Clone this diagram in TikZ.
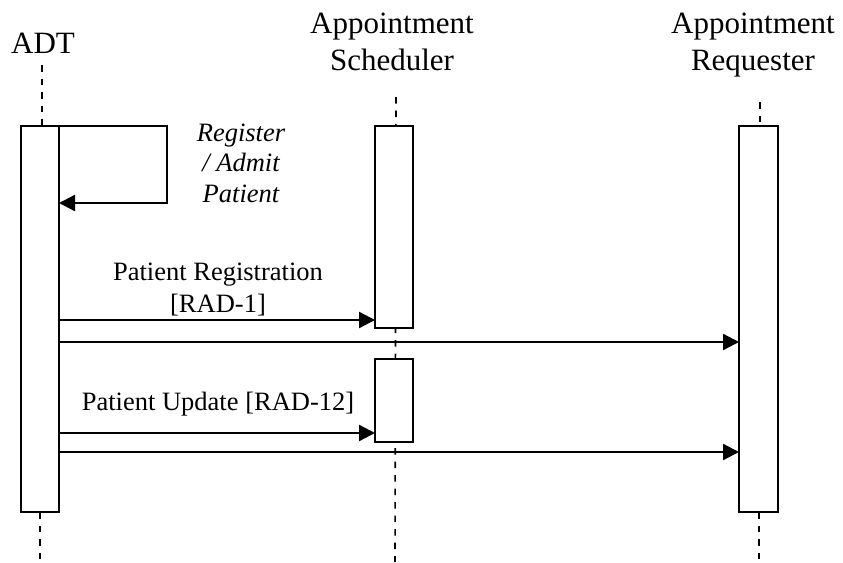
\documentclass[tikz,border=0pt]{standalone}
\usepackage{fontspec}
\setmainfont{Liberation Serif}
\usetikzlibrary{arrows.meta}
\begin{document}
\begin{tikzpicture}[x=1pt,y=-1pt,
  actbox/.style={draw,line width=1.8pt,inner sep=0pt,outer sep=0pt,fill=white},
  lifeline/.style={line width=1.6pt,dash pattern=on 6.5pt off 7pt},
  msg/.style={line width=2.3pt,-{Triangle[length=16pt,width=16pt]}},
  hdr/.style={align=center,inner sep=0pt,font=\fontsize{31}{37}\selectfont},
  lbl/.style={align=center,inner sep=0pt,font=\fontsize{26.5}{32}\selectfont},
  ilbl/.style={align=center,inner sep=0pt,font=\fontsize{26.5}{30.5}\selectfont\itshape}]
\useasboundingbox (0,0) rectangle (843,562);
% headers
\node[hdr,anchor=base] (hadt) at (43,53) {ADT};
\node[hdr,anchor=base] (hsch) at (392,70) {Appointment\\Scheduler};
\node[hdr,anchor=base] (hreq) at (753,70) {Appointment\\Requester};
% lifeline anchors
\coordinate (adtTop) at (42,65);
\coordinate (adtBot) at (40,562);
\coordinate (schTop) at (396,97);
\coordinate (schBot) at (395,562);
\coordinate (reqTop) at (760,102);
\coordinate (reqBot) at (759,562);
% lifelines
\draw[lifeline] (adtTop) -- (42,126);
\draw[lifeline] (40,512) -- (adtBot);
\draw[lifeline] (schTop) -- (schBot);
\draw[lifeline] (reqTop) -- (760,126);
\draw[lifeline] (759,512) -- (reqBot);
% activation boxes
\node[actbox,minimum width=38pt,minimum height=386pt] (adt) at (40,319) {};
\node[actbox,minimum width=38pt,minimum height=202pt] (s1) at (394,227) {};
\node[actbox,minimum width=38pt,minimum height=83pt] (s2) at (394,400.5) {};
\node[actbox,minimum width=39pt,minimum height=386pt] (req) at (758.5,319) {};
% self message
\coordinate (selfc) at (167,203);
\draw[msg] (adt.north east) -| (selfc) -- (adt.east |- selfc);
\node[ilbl,anchor=base] (selflbl) at (241,202) {Register\\/ Admit\\Patient};
% messages
\draw[msg] (adt.east |- 0,320) -- (s1.west |- 0,320);
\draw[msg] (adt.east |- 0,342) -- (req.west |- 0,342);
\draw[msg] (adt.east |- 0,433) -- (s2.west |- 0,433);
\draw[msg] (adt.east |- 0,452) -- (req.west |- 0,452);
\node[lbl,anchor=base] (m1) at (218,312) {Patient Registration\\{}[RAD-1]};
\node[lbl,anchor=base] (m2) at (218,410) {Patient Update [RAD-12]};
\end{tikzpicture}
\end{document}
